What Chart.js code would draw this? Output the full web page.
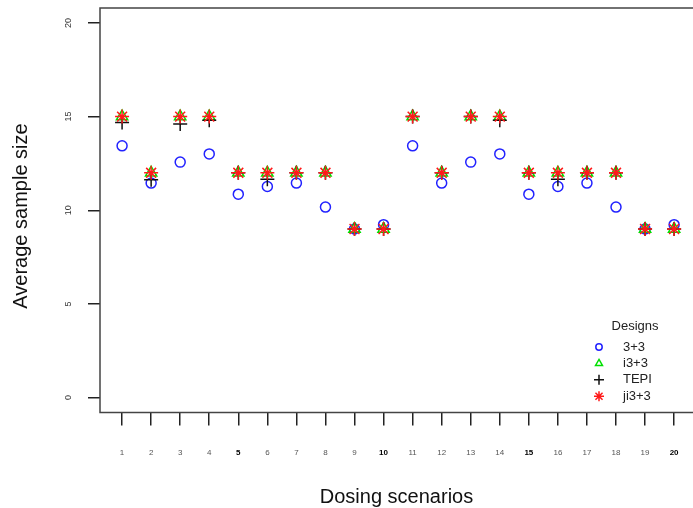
<!DOCTYPE html>
<html>
<head>
<meta charset="utf-8">
<script src="https://cdn.jsdelivr.net/npm/chart.js@4.4.1/dist/chart.umd.min.js"></script>
<style>
  html, body { margin: 0; padding: 0; background: #fff; }
  canvas { display: block; }
</style>
</head>
<body>
<canvas id="myChart" width="693" height="508"></canvas>
<script>
// values
const scenarios = [1, 2, 3, 4, 5, 6, 7, 8, 9, 10, 11, 12, 13, 14, 15, 16, 17, 18, 19, 20];
const yTicks = [0, 5, 10, 15, 20];
const designs = ['3+3', 'i3+3', 'TEPI', 'ji3+3'];

const size33   = [13.44, 11.45, 12.57, 13.01, 10.86, 11.27, 11.45, 10.17, 9.0, 9.23,
                  13.44, 11.45, 12.57, 13.01, 10.86, 11.27, 11.45, 10.17, 9.0, 9.23];
const sizeI33  = [15, 12, 15, 15, 12, 12, 12, 12, 9, 9,
                  15, 12, 15, 15, 12, 12, 12, 12, 9, 9];
const sizeTEPI = [14.68, 11.63, 14.6, 14.8, 12, 11.66, 12, 12, 9, 9,
                  15, 12, 15, 14.8, 12, 11.66, 12, 12, 9, 9];
const sizeJI33 = [15, 12, 15, 15, 12, 12, 12, 12, 9, 9,
                  15, 12, 15, 15, 12, 12, 12, 12, 9, 9];

const FONT = "'Liberation Sans', Arial, Helvetica, sans-serif";

const styles = [
  { color: '#2222ff', pointStyle: 'circle',   radius: 5,   legendRadius: 3.2 },
  { color: '#00e000', pointStyle: 'triangle', radius: 6.5, legendRadius: 4 },
  { color: '#111111', pointStyle: 'cross',    radius: 7,   legendRadius: 5 },
  { color: '#ff1a1a', pointStyle: 'star',     radius: 7,   legendRadius: 5 }
];

const series = [size33, sizeI33, sizeTEPI, sizeJI33];

const datasets = series.map((vals, i) => ({
  label: designs[i],
  data: scenarios.map((s, j) => ({ x: s, y: vals[j] })),
  showLine: false,
  pointStyle: styles[i].pointStyle,
  pointRadius: styles[i].radius,
  pointHoverRadius: styles[i].radius,
  borderColor: styles[i].color,
  backgroundColor: 'rgba(0,0,0,0)',
  pointBorderWidth: 1.5,
  order: 4 - i
}));

// box, rotated y labels, y title and legend drawn R-style
const rPlot = {
  id: 'rPlot',
  afterDraw: (chart) => {
    const ctx = chart.ctx;
    const a = chart.chartArea;
    const ys = chart.scales.y;
    ctx.save();
    ctx.strokeStyle = '#444';
    ctx.lineWidth = 1.5;
    ctx.strokeRect(a.left, a.top, a.right - a.left + 5, a.bottom - a.top);

    ctx.fillStyle = '#333';
    ctx.font = '9px ' + FONT;
    ctx.textAlign = 'center';
    ctx.textBaseline = 'middle';
    yTicks.forEach(v => {
      ctx.save();
      ctx.translate(68.5, ys.getPixelForValue(v));
      ctx.rotate(-Math.PI / 2);
      ctx.fillText(String(v), 0, 0);
      ctx.restore();
    });

    ctx.save();
    ctx.fillStyle = '#111';
    ctx.font = '20px ' + FONT;
    ctx.translate(21, 216);
    ctx.rotate(-Math.PI / 2);
    ctx.fillText('Average sample size', 0, 0);
    ctx.restore();

    // legend
    ctx.fillStyle = '#222';
    ctx.font = '13px ' + FONT;
    ctx.fillText('Designs', 635, 326);
    ctx.textAlign = 'left';
    designs.forEach((d, i) => {
      const y = 347 + i * 16.4;
      ctx.strokeStyle = styles[i].color;
      ctx.fillStyle = 'rgba(0,0,0,0)';
      ctx.lineWidth = 1.5;
      Chart.helpers.drawPoint(ctx, {
        pointStyle: styles[i].pointStyle,
        radius: styles[i].legendRadius,
        borderWidth: 1.5
      }, 599, y);
      ctx.fillStyle = '#222';
      ctx.fillText(d, 623, y);
    });
    ctx.restore();
  }
};

const ctx = document.getElementById('myChart').getContext('2d');
const myChart = new Chart(ctx, {
  type: 'scatter',
  data: { datasets: datasets },
  plugins: [rPlot],
  options: {
    responsive: false,
    animation: false,
    devicePixelRatio: 1,
    layout: { autoPadding: false, padding: { top: 8, right: 0, left: 0, bottom: 0 } },
    plugins: { legend: { display: false }, tooltip: { enabled: false } },
    scales: {
      x: {
        type: 'linear',
        position: 'bottom',
        min: 0.24,
        max: 20.65,
        afterBuildTicks: (s) => { s.ticks = scenarios.map(v => ({ value: v })); },
        afterFit: (s) => { s.height = 95.5; s.paddingLeft = 0; s.paddingRight = 0; },
        border: { display: false },
        grid: {
          drawOnChartArea: false,
          drawTicks: true,
          tickLength: 13,
          color: '#222',
          lineWidth: 1.5
        },
        ticks: {
          autoSkip: false,
          maxRotation: 0,
          padding: 22,
          color: (c) => (c.tick && c.tick.value % 5 === 0) ? '#000' : '#555',
          font: (c) => ({
            family: FONT,
            size: 8,
            weight: (c.tick && c.tick.value % 5 === 0) ? 'bold' : 'normal'
          })
        },
        title: {
          display: true,
          text: 'Dosing scenarios',
          color: '#111',
          font: { family: FONT, size: 20, lineHeight: 1 },
          padding: { top: 0, bottom: 0.5 }
        }
      },
      y: {
        type: 'linear',
        position: 'left',
        min: -0.8,
        max: 20.8,
        afterBuildTicks: (s) => { s.ticks = yTicks.map(v => ({ value: v })); },
        afterFit: (s) => { s.width = 100; s.paddingTop = 0; s.paddingBottom = 0; },
        border: { display: false },
        grid: {
          drawOnChartArea: false,
          drawTicks: true,
          tickLength: 12,
          color: '#222',
          lineWidth: 1.5
        },
        ticks: { display: false },
        title: { display: false }
      }
    }
  }
});
</script>
</body>
</html>
